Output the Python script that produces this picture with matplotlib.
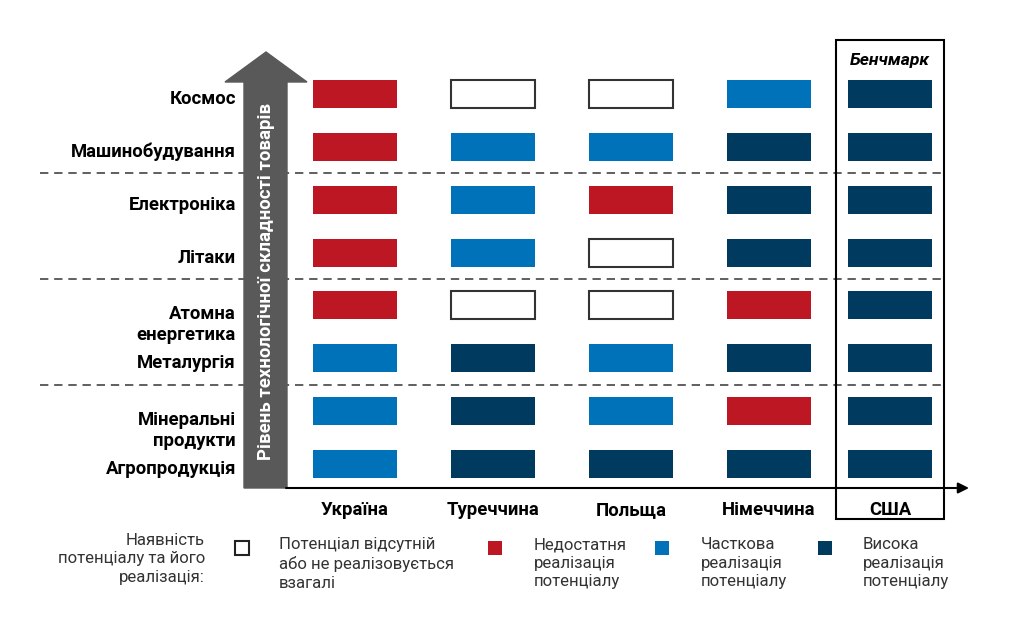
import matplotlib
matplotlib.use("Agg")
import matplotlib.pyplot as plt
from matplotlib.patches import Polygon, Rectangle

plt.rcParams['font.family'] = ['Roboto', 'DejaVu Sans']

# --- data ---
sectors = ["Агропродукція", "Мінеральні\nпродукти", "Металургія", "Атомна\nенергетика",
           "Літаки", "Електроніка", "Машинобудування", "Космос"]
countries = ["Україна", "Туреччина", "Польща", "Німеччина", "США"]
# 0 = absent, 1 = insufficient, 2 = partial, 3 = high (rows bottom -> top)
ukraine = [2, 2, 2, 1, 1, 1, 1, 1]
turkey = [3, 3, 3, 0, 2, 2, 2, 0]
poland = [3, 2, 2, 0, 0, 1, 2, 0]
germany = [3, 1, 3, 1, 3, 3, 3, 2]
usa = [3, 3, 3, 3, 3, 3, 3, 3]
status = [ukraine, turkey, poland, germany, usa]
legend_labels = ["Потенціал відсутній\nабо не реалізовується\nвзагалі",
                 "Недостатня\nреалізація\nпотенціалу",
                 "Часткова\nреалізація\nпотенціалу",
                 "Висока\nреалізація\nпотенціалу"]

# --- layout (pixel space) ---
colors = ["white", "#BE1724", "#0072BA", "#003A5E"]
col_pos = [0, 1, 2, 3, 3.88]
X0, DX = 355, 138
Y0, DY = 464, 52.86
BAR_W, BAR_H = 84, 28
FS = 13.3
LFS = 12.1

fig = plt.figure(figsize=(10.24, 6.26), dpi=100)
ax = fig.add_axes([0, 0, 1, 1])
ax.set_xlim(0, 1024)
ax.set_ylim(626, 0)
ax.axis("off")

row_y = [Y0 - DY * i for i in range(len(sectors))]

# dashed separators between groups
for i in (1.5, 3.5, 5.5):
    ax.plot([40, 945], [Y0 - DY * i] * 2, color="#444444", lw=1.2,
            ls=(0, (5, 3.5)), zorder=1)

# bars
for j, vals in enumerate(status):
    x = X0 + DX * col_pos[j]
    ax.bar([x] * len(vals), BAR_H, width=BAR_W,
           bottom=[y - BAR_H / 2 for y in row_y],
           color=[colors[v] for v in vals],
           edgecolor=["#333333" if v == 0 else "none" for v in vals],
           linewidth=1.5, zorder=3)
    ax.text(x, 510, countries[j], ha="center", va="center",
            fontsize=FS, fontweight="bold", zorder=5)

# row labels
for lab, y in zip(sectors, row_y):
    off = 19 if "\n" in lab else 5
    ax.text(236, y + off, lab, ha="right", va="center", fontsize=FS,
            fontweight="bold", linespacing=1.2, zorder=5)

# big grey arrow
arrow = Polygon([(244, 488), (244, 82), (225, 82), (266, 52), (307, 82),
                 (287, 82), (287, 488)], closed=True, color="#595959", zorder=4)
ax.add_patch(arrow)
ax.text(266, 281, "Рівень технологічної складності товарів", rotation=90,
        ha="center", va="center", color="white", fontsize=13.4,
        fontweight="bold", zorder=5)

# x axis with arrow
ax.annotate("", xy=(969, 488), xytext=(286, 488),
            arrowprops=dict(arrowstyle="-|>", lw=1.5, color="black",
                            mutation_scale=16, shrinkA=0, shrinkB=0), zorder=4)

# benchmark box
ax.add_patch(Rectangle((836, 40), 108, 479, fill=False, edgecolor="black",
                       lw=1.5, zorder=4))
ax.text(890, 61, "Бенчмарк", ha="center", va="center", fontsize=12.6,
        fontweight="bold", style="italic", zorder=5)

# legend
ax.text(205, 559, "Наявність\nпотенціалу та його\nреалізація:", ha="right",
        va="center", fontsize=LFS, color="#333333", linespacing=1.3)
mark_x = [242, 495, 662, 825]
text_x = [279, 534, 701, 863]
for k in range(4):
    ax.add_patch(Rectangle((mark_x[k] - 7, 541), 14, 14, facecolor=colors[k],
                           edgecolor="#222222" if k == 0 else "none", lw=1.5))
    ax.text(text_x[k], 537, legend_labels[k], ha="left", va="top",
            fontsize=LFS, color="#333333", linespacing=1.3)

fig.savefig("out.png", dpi=100)
